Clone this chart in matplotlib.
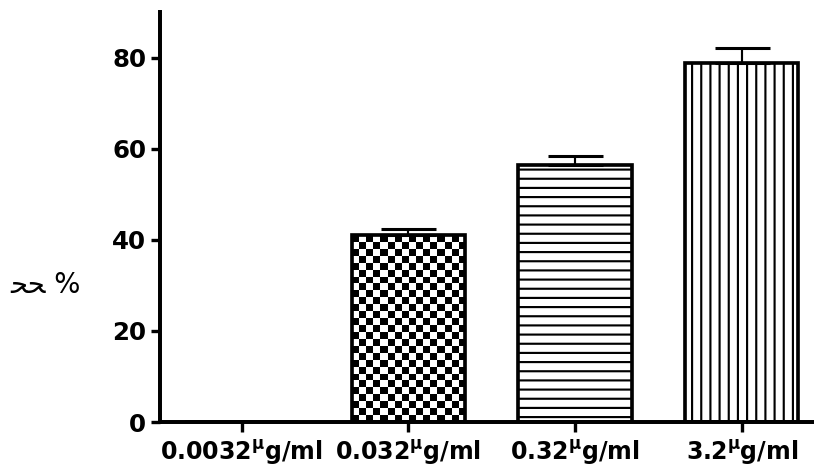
import numpy as np
import matplotlib
matplotlib.use('Agg')
import matplotlib.pyplot as plt

# Data
doses = ['0.0032', '0.032', '0.32', '3.2']
values = [0.0, 41.0, 56.5, 78.7]
errors = [0.0, 1.3, 2.0, 3.3]
y_ticks = [0, 20, 40, 60, 80]
y_label = 'ﺤﺤ %'

plt.rcParams['font.family'] = ['DejaVu Sans']
plt.rcParams['mathtext.default'] = 'regular'
plt.rcParams['hatch.linewidth'] = 1.4

dpi = 110
fig = plt.figure(figsize=(814 / dpi, 473 / dpi), dpi=dpi)
fig.patch.set_facecolor('white')

# Axes placed in pixel terms: y axis at x=160, baseline at y=422, top at y=12
ax = fig.add_axes([160 / 814, (473 - 422) / 473, 654 / 814, 410 / 473])

x = np.arange(len(doses))
bar_w = 0.68
hatches = [None, None, '--', '||']
faces = ['white', 'none', 'white', 'white']
bars = ax.bar(x, values, width=bar_w, color=faces, edgecolor='black',
              linewidth=2.4, zorder=2)
for b, h in zip(bars, hatches):
    if h:
        b.set_hatch(h)

# Upward-only error bars
ax.errorbar(x[1:], values[1:], yerr=[np.zeros(len(x) - 1), errors[1:]],
            fmt='none', ecolor='black', elinewidth=1.4, capsize=18,
            capthick=2.0, zorder=3)

ax.set_xlim(-0.49, 3.434)
ax.set_ylim(0, 90)

# Checkerboard fill for the second bar (no built-in hatch for that)
b = bars[1]
x0, w, h = b.get_x(), b.get_width(), b.get_height()
p0 = ax.transData.transform((x0, 0))
p1 = ax.transData.transform((x0 + w, h))
cell = 7.0
ncols = max(1, int(round((p1[0] - p0[0]) / cell)))
nrows = max(1, int(round((p1[1] - p0[1]) / cell)))
board = (np.add.outer(np.arange(nrows), np.arange(ncols)) % 2).astype(float)
img = ax.imshow(board, cmap='gray', extent=(x0, x0 + w, 0, h), aspect='auto',
                interpolation='nearest', zorder=1.5)
img.set_clip_path(b)
ax.set_xlim(-0.49, 3.434)
ax.set_ylim(0, 90)

ax.set_xticks(x)
ax.set_xticklabels([d + r'$^{\mathregular{μ}}$g/ml' for d in doses],
                   fontsize=15.5, fontweight='bold')
ax.set_yticks(y_ticks)
ax.set_yticklabels([str(t) for t in y_ticks], fontsize=16, fontweight='bold')

for side in ['top', 'right']:
    ax.spines[side].set_visible(False)
for side in ['left', 'bottom']:
    ax.spines[side].set_linewidth(2.6)
ax.tick_params(axis='y', direction='out', length=6, width=2.2, pad=3)
ax.tick_params(axis='x', direction='out', length=6.5, width=2.2, pad=4)

fig.text(10 / 814, (473 - 285) / 473, y_label, fontsize=18,
         ha='left', va='center')

fig.savefig('out.png', dpi=dpi, facecolor='white')
